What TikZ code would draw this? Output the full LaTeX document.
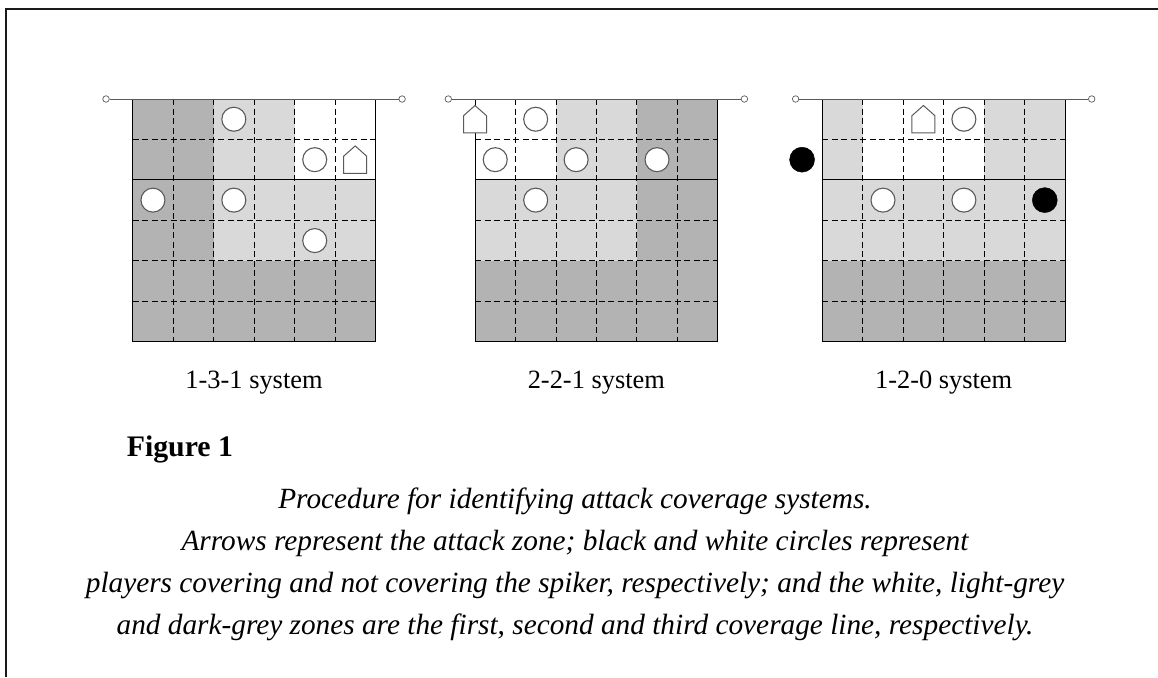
\documentclass[tikz,border=0pt]{standalone}
\usepackage{fontspec}
\setmainfont{Liberation Serif}
\usepackage{tikz}
\definecolor{darkzone}{HTML}{B3B3B3}
\definecolor{lightzone}{HTML}{D9D9D9}
\definecolor{ink}{HTML}{1A1A1A}
\definecolor{pencil}{HTML}{5A5A5A}
\tikzset{
  frameline/.style={line width=1.6pt, draw=ink},
  cellgrid/.style={draw=black, line width=0.8pt, dash pattern=on 6pt off 3.5pt},
  netline/.style={draw=black, line width=0.9pt},
  tapeline/.style={draw=pencil, line width=1pt},
  post/.style={circle, draw=pencil, fill=white, line width=0.7pt, inner sep=0pt, minimum size=6.5pt},
  freeplr/.style={circle, draw=pencil, fill=white, line width=1.1pt, inner sep=0pt, minimum size=24pt},
  coverplr/.style={circle, draw=black, fill=black, inner sep=0pt, minimum size=25pt},
  sysname/.style={font=\fontsize{26.4}{30}\selectfont, anchor=base},
  figtitle/.style={font=\fontsize{29.8}{32}\selectfont\bfseries, anchor=base west},
  capline/.style={font=\fontsize{29.3}{32}\selectfont\itshape, anchor=base},
  spiker/.pic={
    \draw[draw=pencil, fill=white, line width=1pt]
      (-11.5pt,-13.75pt) -- (11.5pt,-13.75pt) -- (11.5pt,3.5pt) -- (0pt,13.75pt)
      -- (-11.5pt,3.5pt) -- cycle;
  },
}
% lines of one 6x6 court, drawn in cell units
\newcommand\courtlines{%
  \foreach \k in {1,...,5} {\draw[cellgrid] (\k,0) -- (\k,6);}
  \foreach \k in {1,3,4,5} {\draw[cellgrid] (0,\k) -- (6,\k);}
  \draw[netline] (0,2) -- (6,2);
  \draw[netline] (0,0) -- (0,6) -- (6,6) -- (6,0);
}

\begin{document}
\begin{tikzpicture}[x=1pt, y=-1pt]
  \useasboundingbox (0,0) rectangle (1158,677);
  \draw[frameline] (6,677) -- (6,9) -- (1158,9);

  % 1-3-1
  \begin{scope}[shift={(132.7,99)}, x=40.45pt, y=-40.45pt]
    \fill[darkzone] (0,0) rectangle (6,6);
    \fill[lightzone] (2,0) rectangle (6,4);
    \fill[white] (4,0) rectangle (6,2);
    \courtlines
    \node[post] (ta1) at (-0.66,0) {};
    \node[post] (tb1) at (6.66,0) {};
    \draw[tapeline] (ta1) -- (tb1);
    \node[freeplr] (a1) at (2.5,0.5) {};
    \node[freeplr] (a2) at (4.5,1.5) {};
    \node[freeplr] (a3) at (0.5,2.5) {};
    \node[freeplr] (a4) at (2.5,2.5) {};
    \node[freeplr] (a5) at (4.5,3.5) {};
    \pic at (5.5,1.5) {spiker};
    \node[sysname] (sys1) at (3,7.15) {1-3-1 system};
  \end{scope}

  % 2-2-1
  \begin{scope}[shift={(475,99)}, x=40.45pt, y=-40.45pt]
    \fill[darkzone] (0,0) rectangle (6,6);
    \fill[lightzone] (0,0) rectangle (4,4);
    \fill[white] (0,0) rectangle (2,2);
    \courtlines
    \node[post] (ta2) at (-0.66,0) {};
    \node[post] (tb2) at (6.66,0) {};
    \draw[tapeline] (ta2) -- (tb2);
    \node[freeplr] (b1) at (1.5,0.5) {};
    \node[freeplr] (b2) at (0.5,1.5) {};
    \node[freeplr] (b3) at (2.5,1.5) {};
    \node[freeplr] (b4) at (4.5,1.5) {};
    \node[freeplr] (b5) at (1.5,2.5) {};
    \pic at (0,0.5) {spiker};
    \node[sysname] (sys2) at (3,7.15) {2-2-1 system};
  \end{scope}

  % 1-2-0
  \begin{scope}[shift={(822.3,99)}, x=40.45pt, y=-40.45pt]
    \fill[darkzone] (0,0) rectangle (6,6);
    \fill[lightzone] (0,0) rectangle (6,4);
    \fill[white] (1,0) rectangle (4,2);
    \courtlines
    \node[post] (ta3) at (-0.66,0) {};
    \node[post] (tb3) at (6.66,0) {};
    \draw[tapeline] (ta3) -- (tb3);
    \node[freeplr] (c1) at (3.5,0.5) {};
    \node[coverplr] (c2) at (-0.5,1.5) {};
    \node[freeplr] (c3) at (1.5,2.5) {};
    \node[freeplr] (c4) at (3.5,2.5) {};
    \node[coverplr] (c5) at (5.5,2.5) {};
    \pic at (2.5,0.5) {spiker};
    \node[sysname] (sys3) at (3,7.15) {1-2-0 system};
  \end{scope}

  \node[figtitle] (fig) at (123.3,456.7) {Figure 1};
  \node[capline] (cap1) at (575,508) {Procedure for identifying attack coverage systems.};
  \node[capline] (cap2) at (575,550) {Arrows represent the attack zone; black and white circles represent};
  \node[capline] (cap3) at (575,592) {players covering and not covering the spiker, respectively; and the white, light-grey};
  \node[capline] (cap4) at (575,634) {and dark-grey zones are the first, second and third coverage line, respectively.};
\end{tikzpicture}
\end{document}
